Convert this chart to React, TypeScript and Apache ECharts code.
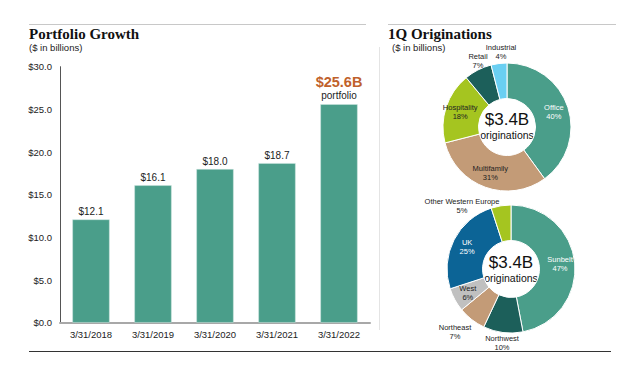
import React, { useEffect, useRef } from "react";
import * as echarts from "echarts";

const years = ["3/31/2018", "3/31/2019", "3/31/2020", "3/31/2021", "3/31/2022"];
const portfolio = [12.1, 16.1, 18.0, 18.7, 25.6];
const yTicks = { min: 0, max: 30, interval: 5 };

const propertyTypes = ["Office", "Multifamily", "Hospitality", "Retail", "Industrial"];
const propertyShares = [40, 31, 18, 7, 4];
const propertyColors = ["#4a9e8a", "#c39b77", "#a5c520", "#1c5f5a", "#6acff2"];

const regions = ["Sunbelt", "Northwest", "Northeast", "West", "UK", "Other Western Europe"];
const regionShares = [47, 10, 7, 6, 25, 5];
const regionColors = ["#4a9e8a", "#1c5f5a", "#c39b77", "#c0c0c0", "#0c6496", "#a5c520"];

const FONT = "Liberation Sans";
const SERIF = "Liberation Serif";

const insideWhite = ["Office", "Sunbelt", "UK"];
// positions of labels that sit outside the ring (layout only)
const outsidePos: Record<string, [number, number]> = {
  Retail: [478, 61],
  Industrial: [501, 52],
  "Other Western Europe": [462, 206],
  Northeast: [455, 332],
  Northwest: [502, 343],
};

function pieData(names: string[], vals: number[], colors: string[]) {
  return names.map((n, i) => ({
    name: n,
    value: vals[i],
    itemStyle: { color: colors[i] },
    label: { color: insideWhite.includes(n) ? "#ffffff" : "#222222" },
  }));
}

function layoutFor(names: string[]) {
  return (p: any) => {
    const pos = outsidePos[names[p.dataIndex]];
    if (!pos) return {};
    return { x: pos[0], y: pos[1], align: "center", verticalAlign: "middle" };
  };
}

export default function App() {
  const ref = useRef<HTMLDivElement>(null);
  useEffect(() => {
    const chart = echarts.init(ref.current!, null, { renderer: "svg" });
    const pieCommon = {
      type: "pie",
      startAngle: 90,
      clockwise: true,
      avoidLabelOverlap: false,
      itemStyle: { borderColor: "#ffffff", borderWidth: 1 },
      labelLine: { show: false },
      label: {
        show: true,
        position: "inside",
        fontFamily: FONT,
        fontSize: 7.5,
        lineHeight: 9,
        formatter: (p: any) => `${p.name}\n${p.value}%`,
        align: "center",
      },
      emphasis: { disabled: true },
    };
    chart.setOption({
      animation: false,
      grid: { left: 60, right: 270, top: 66.7, bottom: 48.3 },
      xAxis: {
        type: "category",
        data: years,
        axisLine: { lineStyle: { color: "#a8a8a8", width: 2 } },
        axisTick: { show: false },
        axisLabel: { fontFamily: FONT, fontSize: 9.5, color: "#222", margin: 7 },
      },
      yAxis: {
        type: "value",
        min: yTicks.min,
        max: yTicks.max,
        interval: yTicks.interval,
        axisLine: { show: true, lineStyle: { color: "#555", width: 1 } },
        axisTick: { show: false },
        splitLine: { show: false },
        axisLabel: {
          fontFamily: FONT,
          fontSize: 9.5,
          color: "#222",
          margin: 8,
          formatter: (v: number) => `$${v.toFixed(1)}`,
        },
      },
      series: [
        {
          type: "bar",
          data: portfolio.map((v, i) =>
            i === portfolio.length - 1
              ? {
                  value: v,
                  label: {
                    distance: 2,
                    formatter: `{a|$${v.toFixed(1)}B}\n{b|portfolio}`,
                    rich: {
                      a: { fontFamily: FONT, fontSize: 14.5, fontWeight: 600, color: "#c0612b", lineHeight: 15 },
                      b: { fontFamily: FONT, fontSize: 10, color: "#222", lineHeight: 13 },
                    },
                  },
                }
              : v
          ),
          barWidth: "60%",
          itemStyle: { color: "#4a9e8a", borderColor: "#cfe6e0", borderWidth: 0.5 },
          label: {
            show: true,
            position: "top",
            distance: 3,
            fontFamily: FONT,
            fontSize: 10,
            color: "#222",
            formatter: (p: any) => `$${Number(p.value).toFixed(1)}`,
          },
        },
        {
          ...pieCommon,
          center: [507, 127],
          radius: [28.5, 64],
          data: pieData(propertyTypes, propertyShares, propertyColors),
          labelLayout: layoutFor(propertyTypes),
        },
        {
          ...pieCommon,
          center: [511, 269],
          radius: [28.5, 64],
          data: pieData(regions, regionShares, regionColors),
          labelLayout: layoutFor(regions),
        },
      ],
      graphic: [
        { type: "line", shape: { x1: 29, y1: 24.5, x2: 366, y2: 24.5 }, style: { stroke: "#c8c8c8", lineWidth: 1 } },
        { type: "line", shape: { x1: 388, y1: 24.5, x2: 616, y2: 24.5 }, style: { stroke: "#c8c8c8", lineWidth: 1 } },
        { type: "line", shape: { x1: 29, y1: 351.5, x2: 611, y2: 351.5 }, style: { stroke: "#333", lineWidth: 1.2 } },
        { type: "line", shape: { x1: 379.5, y1: 47, x2: 379.5, y2: 330 }, style: { stroke: "#e4e4e4", lineWidth: 1 } },
        { type: "text", left: 29, top: 26, style: { text: "Portfolio Growth", font: `bold 15px "${SERIF}"`, fill: "#111" } },
        { type: "text", left: 29, top: 42, style: { text: "($ in billions)", font: `9.5px "${FONT}"`, fill: "#222" } },
        { type: "text", left: 388, top: 26, style: { text: "1Q Originations", font: `bold 15px "${SERIF}"`, fill: "#111" } },
        { type: "text", left: 392, top: 42, style: { text: "($ in billions)", font: `9.5px "${FONT}"`, fill: "#222" } },
        { type: "text", x: 507, y: 119, style: { text: "$3.4B", font: `17px "${FONT}"`, fill: "#111", align: "center", verticalAlign: "middle" } },
        { type: "text", x: 507, y: 134.5, style: { text: "originations", font: `10.5px "${FONT}"`, fill: "#111", align: "center", verticalAlign: "middle" } },
        { type: "text", x: 511, y: 262.5, style: { text: "$3.4B", font: `17px "${FONT}"`, fill: "#111", align: "center", verticalAlign: "middle" } },
        { type: "text", x: 511, y: 277.5, style: { text: "originations", font: `10.5px "${FONT}"`, fill: "#111", align: "center", verticalAlign: "middle" } },
      ],
    });
    return () => chart.dispose();
  }, []);
  return <div ref={ref} style={{ width: 640, height: 371, position: "absolute", left: 0, top: 0, background: "#fff" }} />;
}
